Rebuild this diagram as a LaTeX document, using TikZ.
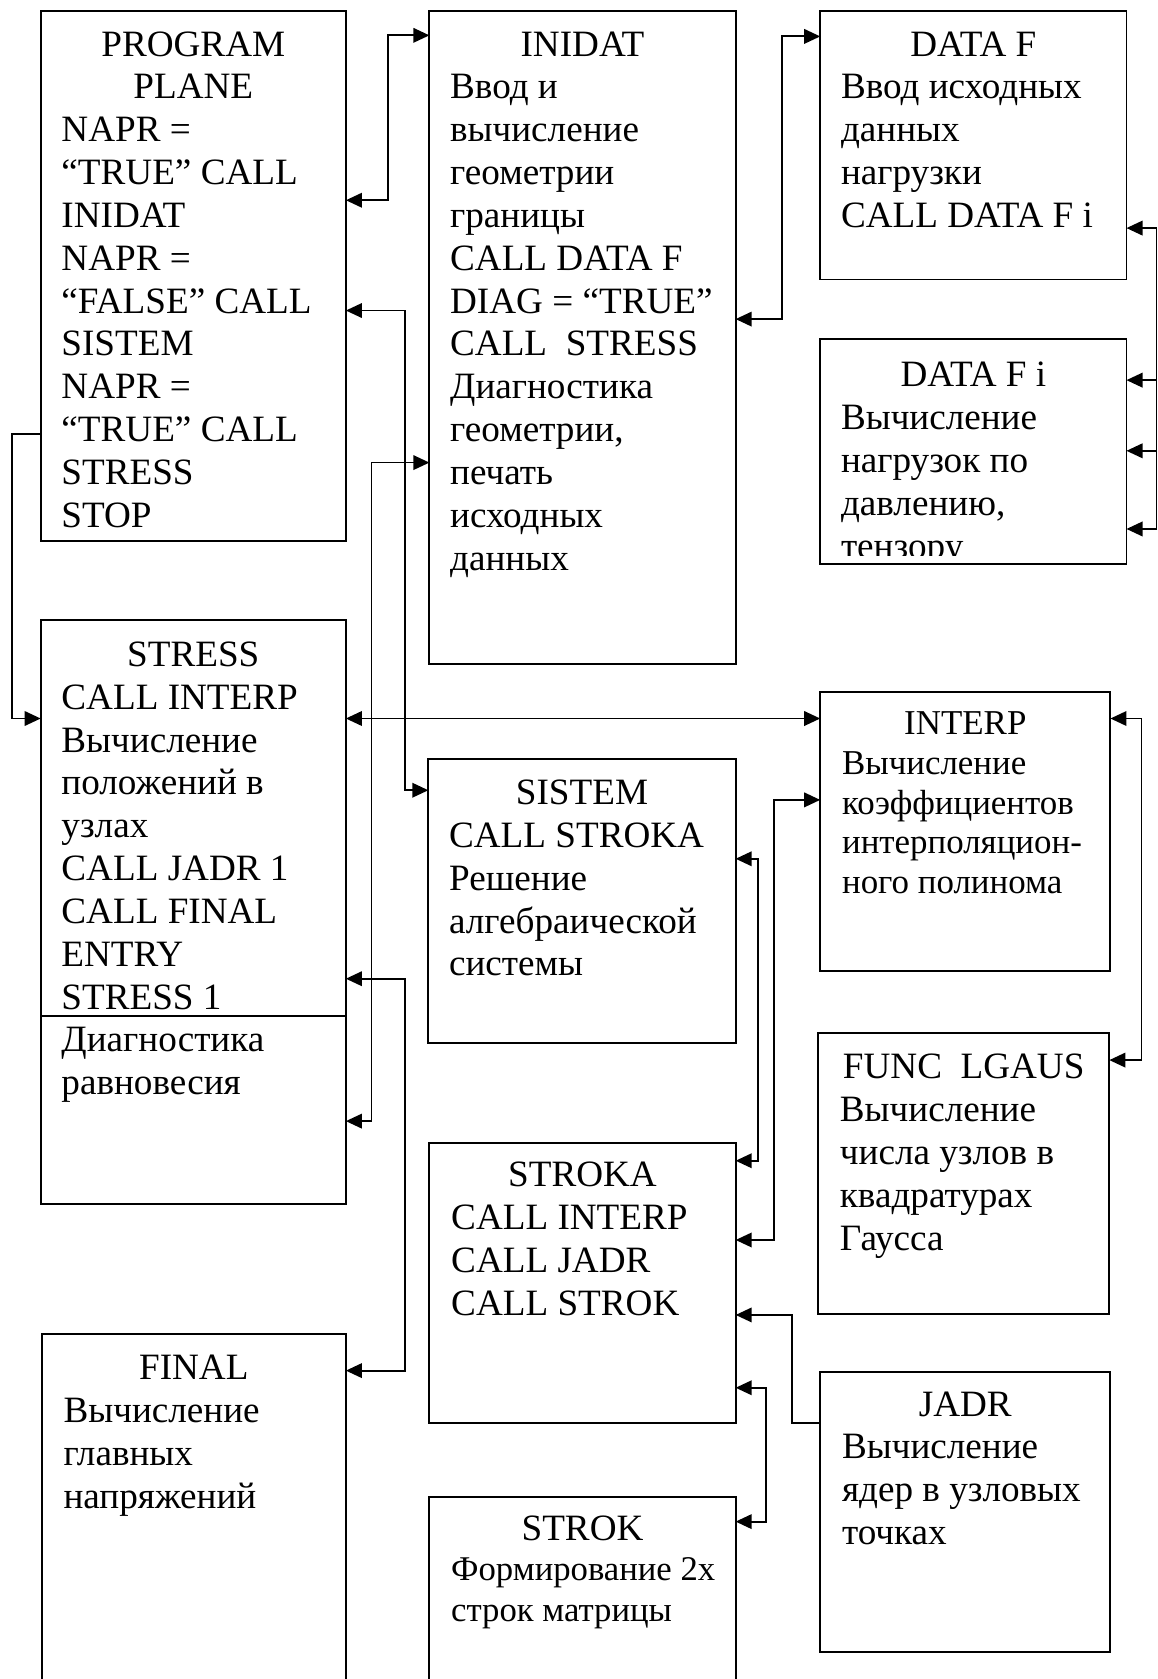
\documentclass[tikz,border=0pt]{standalone}
\usepackage{fontspec}
\setmainfont{Liberation Serif}
\usetikzlibrary{arrows.meta,fit}
\begin{document}
\begin{tikzpicture}[x=0.5pt,y=-0.5pt,
  box/.style={draw,line width=0.9pt,inner sep=0pt,outer sep=0pt,rectangle},
  ttl/.style={anchor=north,inner sep=0pt,align=center,font=\fontsize{17.35}{20}\selectfont},
  bdy/.style={anchor=north west,inner sep=0pt,align=left,font=\fontsize{17.35}{20}\selectfont},
  sml/.style={font=\fontsize{16.3}{18.5}\selectfont},
  con/.style={line width=0.85pt},
  arrBoth/.style={con,{Triangle[length=7.5pt,width=6.8pt]}-{Triangle[length=7.5pt,width=6.8pt]}},
  arrEnd/.style={con,-{Triangle[length=7.5pt,width=6.8pt]}},
  arrStart/.style={con,{Triangle[length=7.5pt,width=6.8pt]}-}]
\useasboundingbox (0,0) rectangle (1081,1568);
\clip (0,0) rectangle (1081,1568);

% boxes
\node[box, fit={(38,10) (323,505)}] (prog) {};
\node[box, fit={(401,10) (687,620)}] (inidat) {};
\node[box, fit={(766,10) (1052,261)}] (dataf) {};
\node[box, fit={(766,317) (1052,527)}] (datafi) {};
\node[box, fit={(38,579) (323,1124)}] (stress) {};
\node[box, fit={(766,646) (1037,907)}] (interp) {};
\node[box, fit={(400,709) (687,974)}] (sistem) {};
\node[box, fit={(764,965) (1036,1227)}] (lgaus) {};
\node[box, fit={(401,1067) (687,1329)}] (stroka) {};
\node[box, fit={(39,1246) (323,1600)}] (final) {};
\node[box, fit={(766,1281) (1037,1543)}] (jadr) {};
\node[box, fit={(401,1398) (687,1600)}] (strok) {};
\draw[line width=0.9pt] (stress.west |- 0,949) -- (stress.east |- 0,949);

% texts
\node[ttl] (progT) at (180.5,24) {\strut PROGRAM\\PLANE};
\node[bdy] (progB) at (57,104) {\strut NAPR =\\“TRUE” CALL\\INIDAT\\NAPR =\\“FALSE” CALL\\SISTEM\\NAPR =\\“TRUE” CALL\\STRESS\\STOP};

\node[ttl] (inidatT) at (544,24) {\strut INIDAT};
\node[bdy] (inidatB) at (420,64) {\strut Ввод и\\вычисление\\геометрии\\границы\\CALL DATA F\\DIAG = “TRUE”\\CALL~~STRESS\\Диагностика\\геометрии,\\печать\\исходных\\данных};

\node[ttl] (datafT) at (909,24) {\strut DATA F};
\node[bdy] (datafB) at (785,64) {\strut Ввод исходных\\данных\\нагрузки\\CALL DATA F i};

\node[ttl] (datafiT) at (909,333) {\strut DATA F i};
\begin{scope}
\clip (766,317) rectangle (1052,519);
\node[bdy] (datafiB) at (785,373) {\strut Вычисление\\нагрузок по\\давлению,\\тензору};
\end{scope}

\node[ttl] (stressT) at (180.5,594) {\strut STRESS};
\node[bdy] (stressB) at (57,634) {\strut CALL INTERP\\Вычисление\\положений в\\узлах\\CALL JADR 1\\CALL FINAL\\ENTRY\\STRESS 1\\Диагностика\\равновесия};

\node[ttl,sml] (interpT) at (901.5,660) {\strut INTERP};
\node[bdy,sml] (interpB) at (786,697) {\strut Вычисление\\коэффициентов\\интерполяцион-\\ного полинома};

\node[ttl] (sistemT) at (543.5,723) {\strut SISTEM};
\node[bdy] (sistemB) at (419,763) {\strut CALL STROKA\\Решение\\алгебраической\\системы};

\node[ttl] (lgausT) at (900,979) {\strut FUNC~~LGAUS};
\node[bdy] (lgausB) at (784,1019) {\strut Вычисление\\числа узлов в\\квадратурах\\Гаусса};

\node[ttl] (strokaT) at (544,1080) {\strut STROKA};
\node[bdy] (strokaB) at (421,1120) {\strut CALL INTERP\\CALL JADR\\CALL STROK};

\node[ttl] (finalT) at (181,1260) {\strut FINAL};
\node[bdy] (finalB) at (59,1300) {\strut Вычисление\\главных\\напряжений};

\node[ttl] (jadrT) at (901.5,1294) {\strut JADR};
\node[bdy] (jadrB) at (786,1334) {\strut Вычисление\\ядер в узловых\\точках};

\node[ttl] (strokT) at (544,1410) {\strut STROK};
\node[bdy,font=\fontsize{16.2}{19}\selectfont] (strokB) at (421,1449.4) {\strut Формирование 2х\\строк матрицы};

% connectors
\draw[arrBoth] (prog.east |- 0,187) -- (362,187) -- (362,33) -- (inidat.west |- 0,33);
\draw[arrBoth] (inidat.east |- 0,298) -- (730,298) -- (730,34) -- (dataf.west |- 0,34);
\draw[arrBoth] (dataf.east |- 0,213) -- (1080,213) -- (1080,494) -- (datafi.east |- 0,494);
\coordinate (busA) at (1080,355);
\coordinate (busB) at (1080,421);
\draw[arrEnd] (busA) -- (datafi.east |- busA);
\draw[arrEnd] (busB) -- (datafi.east |- busB);
\draw[arrEnd] (prog.west |- 0,405) -- (11,405) -- (11,671) -- (stress.west |- 0,671);
\draw[arrBoth] (prog.east |- 0,290) -- (378,290) -- (378,738) -- (sistem.west |- 0,738);
\draw[arrBoth] (inidat.west |- 0,432) -- (347,432) -- (347,1047) -- (stress.east |- 0,1047);
\draw[arrBoth] (stress.east |- 0,671) -- (interp.west |- 0,671);
\draw[arrBoth] (stress.east |- 0,914) -- (378,914) -- (378,1280) -- (final.east |- 0,1280);
\draw[arrBoth] (sistem.east |- 0,802) -- (708,802) -- (708,1084) -- (stroka.east |- 0,1084);
\draw[arrBoth] (interp.west |- 0,747) -- (723,747) -- (723,1158) -- (stroka.east |- 0,1158);
\draw[arrBoth] (interp.east |- 0,671) -- (1066,671) -- (1066,990) -- (lgaus.east |- 0,990);
\draw[arrStart] (stroka.east |- 0,1228) -- (740,1228) -- (740,1329) -- (jadr.west |- 0,1329);
\draw[arrBoth] (stroka.east |- 0,1296) -- (715,1296) -- (715,1421) -- (strok.east |- 0,1421);
\end{tikzpicture}
\end{document}
